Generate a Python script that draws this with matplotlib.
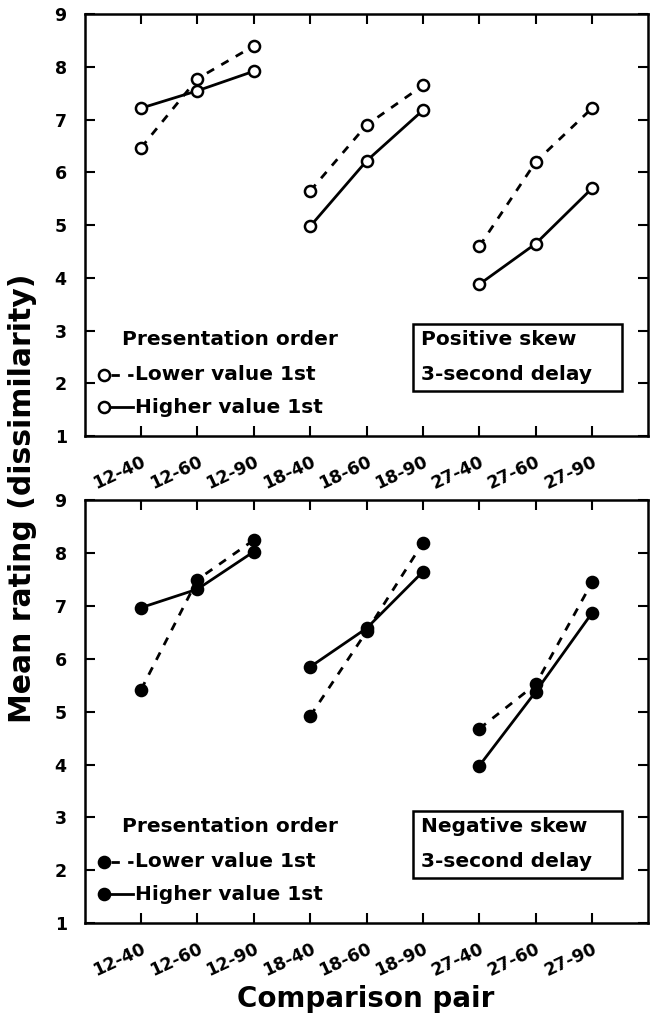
import matplotlib
matplotlib.use("Agg")
import matplotlib.pyplot as plt
from matplotlib.patches import Rectangle

plt.rcParams["font.family"] = ["DejaVu Sans"]
plt.rcParams["font.weight"] = "bold"

pairs = ["12-40", "12-60", "12-90", "18-40", "18-60", "18-90", "27-40", "27-60", "27-90"]

# positive skew (open circles)
pos_lower = [6.47, 7.78, 8.40, 5.65, 6.90, 7.65, 4.60, 6.20, 7.22]
pos_higher = [7.22, 7.55, 7.92, 4.98, 6.22, 7.18, 3.88, 4.65, 5.70]

# negative skew (filled circles)
neg_lower = [5.42, 7.50, 8.25, 4.92, 6.52, 8.20, 4.68, 5.52, 7.45]
neg_higher = [6.97, 7.32, 8.03, 5.85, 6.58, 7.65, 3.98, 5.38, 6.87]

panel_titles = [["Positive skew", "3-second delay"], ["Negative skew", "3-second delay"]]

DASH = (0, (3, 3))
LEG_FS = 14.5


def draw_panel(ax, lower, higher, face, title):
    x = list(range(1, len(pairs) + 1))
    mk = dict(marker="o", ms=8, mfc=face, mec="black", mew=1.8)
    for g in range(3):
        sl = slice(3 * g, 3 * g + 3)
        ax.plot(x[sl], lower[sl], color="black", lw=2, ls=DASH, **mk)
        ax.plot(x[sl], higher[sl], color="black", lw=2, ls="-", **mk)

    ax.set_xlim(0, 10)
    ax.set_ylim(1, 9)
    ax.set_xticks(x)
    ax.set_xticklabels(pairs, rotation=25, ha="right", rotation_mode="anchor",
                       fontsize=12.5, fontweight="bold")
    ax.set_yticks(range(1, 10))
    ax.set_yticklabels([str(v) for v in range(1, 10)], fontsize=12.5, fontweight="bold")
    ax.tick_params(direction="in", length=7, width=1.5, top=True, right=True)
    ax.tick_params(axis="x", pad=12)
    ax.tick_params(axis="y", pad=13)
    for s in ax.spines.values():
        s.set_linewidth(1.8)

    # legend drawn by hand
    tr = ax.transAxes
    ax.text(0.066, 0.228, "Presentation order", transform=tr, fontsize=LEG_FS,
            va="center", ha="left")
    for yy, ls, lab in [(0.145, DASH, "Lower value 1st"), (0.068, "-", "Higher value 1st")]:
        ax.plot([0.035], [yy], transform=tr, color="black", **mk)
        ax.plot([0.047, 0.086], [yy, yy], transform=tr, color="black", lw=2, ls=ls)
        ax.text(0.09, yy, lab, transform=tr, fontsize=LEG_FS, va="center", ha="left")

    ax.add_patch(Rectangle((0.582, 0.107), 0.371, 0.158, transform=tr,
                           fill=False, ec="black", lw=1.8))
    ax.text(0.597, 0.228, title[0], transform=tr, fontsize=LEG_FS, va="center", ha="left")
    ax.text(0.597, 0.145, title[1], transform=tr, fontsize=LEG_FS, va="center", ha="left")


fig = plt.figure(figsize=(6.57, 10.19), dpi=100)
ax1 = fig.add_axes([0.129, 0.572, 0.858, 0.414])
ax2 = fig.add_axes([0.129, 0.094, 0.858, 0.415])

draw_panel(ax1, pos_lower, pos_higher, "white", panel_titles[0])
draw_panel(ax2, neg_lower, neg_higher, "black", panel_titles[1])

fig.text(0.035, 0.511, "Mean rating (dissimilarity)", rotation=90, ha="center",
         va="center", fontsize=21.5, fontweight="bold")
fig.text(0.556, 0.02, "Comparison pair", ha="center", va="center",
         fontsize=20, fontweight="bold")

fig.savefig("out.png", dpi=100)
